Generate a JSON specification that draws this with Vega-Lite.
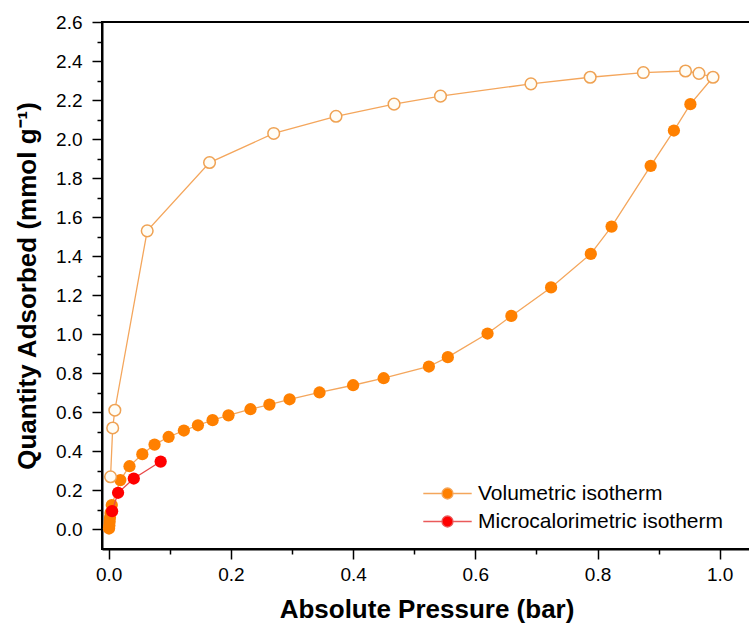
{
  "$schema": "https://vega.github.io/schema/vega-lite/v6.json",
  "autosize": {"type": "none"},
  "padding": {"left": 102, "top": 22, "right": 0, "bottom": 81},
  "width": 649,
  "height": 527,
  "background": "white",
  "config": {
    "view": {"stroke": "black", "strokeWidth": 2},
    "axis": {
      "domainColor": "black", "domainWidth": 2, "tickColor": "black", "tickWidth": 1.5,
      "grid": false, "labelFont": "Liberation Sans", "labelFontSize": 19, "labelColor": "black",
      "titleFont": "Liberation Sans", "titleFontSize": 26, "titleFontWeight": "bold", "titleColor": "black"
    },
    "legend": {"labelFont": "Liberation Sans", "labelFontSize": 21, "labelColor": "black", "labelLimit": 400}
  },
  "datasets": {
    "vol": [
      {"series": "Volumetric isotherm", "branch": "adsorption", "i": 1, "p": 0.0005, "q": 0.005},
      {"series": "Volumetric isotherm", "branch": "adsorption", "i": 2, "p": 0.001, "q": 0.02},
      {"series": "Volumetric isotherm", "branch": "adsorption", "i": 3, "p": 0.0015, "q": 0.04},
      {"series": "Volumetric isotherm", "branch": "adsorption", "i": 4, "p": 0.002, "q": 0.06},
      {"series": "Volumetric isotherm", "branch": "adsorption", "i": 5, "p": 0.003, "q": 0.085},
      {"series": "Volumetric isotherm", "branch": "adsorption", "i": 6, "p": 0.005, "q": 0.125},
      {"series": "Volumetric isotherm", "branch": "adsorption", "i": 7, "p": 0.019, "q": 0.253},
      {"series": "Volumetric isotherm", "branch": "adsorption", "i": 8, "p": 0.034, "q": 0.324},
      {"series": "Volumetric isotherm", "branch": "adsorption", "i": 9, "p": 0.055, "q": 0.386},
      {"series": "Volumetric isotherm", "branch": "adsorption", "i": 10, "p": 0.075, "q": 0.435},
      {"series": "Volumetric isotherm", "branch": "adsorption", "i": 11, "p": 0.098, "q": 0.474},
      {"series": "Volumetric isotherm", "branch": "adsorption", "i": 12, "p": 0.123, "q": 0.507},
      {"series": "Volumetric isotherm", "branch": "adsorption", "i": 13, "p": 0.146, "q": 0.534},
      {"series": "Volumetric isotherm", "branch": "adsorption", "i": 14, "p": 0.170, "q": 0.560},
      {"series": "Volumetric isotherm", "branch": "adsorption", "i": 15, "p": 0.196, "q": 0.585},
      {"series": "Volumetric isotherm", "branch": "adsorption", "i": 16, "p": 0.232, "q": 0.616},
      {"series": "Volumetric isotherm", "branch": "adsorption", "i": 17, "p": 0.263, "q": 0.640},
      {"series": "Volumetric isotherm", "branch": "adsorption", "i": 18, "p": 0.296, "q": 0.667},
      {"series": "Volumetric isotherm", "branch": "adsorption", "i": 19, "p": 0.345, "q": 0.702},
      {"series": "Volumetric isotherm", "branch": "adsorption", "i": 20, "p": 0.400, "q": 0.739},
      {"series": "Volumetric isotherm", "branch": "adsorption", "i": 21, "p": 0.450, "q": 0.775},
      {"series": "Volumetric isotherm", "branch": "adsorption", "i": 22, "p": 0.524, "q": 0.835},
      {"series": "Volumetric isotherm", "branch": "adsorption", "i": 23, "p": 0.555, "q": 0.883},
      {"series": "Volumetric isotherm", "branch": "adsorption", "i": 24, "p": 0.620, "q": 1.004},
      {"series": "Volumetric isotherm", "branch": "adsorption", "i": 25, "p": 0.659, "q": 1.094},
      {"series": "Volumetric isotherm", "branch": "adsorption", "i": 26, "p": 0.724, "q": 1.240},
      {"series": "Volumetric isotherm", "branch": "adsorption", "i": 27, "p": 0.789, "q": 1.412},
      {"series": "Volumetric isotherm", "branch": "adsorption", "i": 28, "p": 0.823, "q": 1.552},
      {"series": "Volumetric isotherm", "branch": "adsorption", "i": 29, "p": 0.887, "q": 1.863},
      {"series": "Volumetric isotherm", "branch": "adsorption", "i": 30, "p": 0.925, "q": 2.044},
      {"series": "Volumetric isotherm", "branch": "adsorption", "i": 31, "p": 0.952, "q": 2.179},
      {"series": "Volumetric isotherm", "branch": "desorption", "i": 32, "p": 0.989, "q": 2.317},
      {"series": "Volumetric isotherm", "branch": "desorption", "i": 33, "p": 0.966, "q": 2.337},
      {"series": "Volumetric isotherm", "branch": "desorption", "i": 34, "p": 0.944, "q": 2.349},
      {"series": "Volumetric isotherm", "branch": "desorption", "i": 35, "p": 0.875, "q": 2.341},
      {"series": "Volumetric isotherm", "branch": "desorption", "i": 36, "p": 0.788, "q": 2.317},
      {"series": "Volumetric isotherm", "branch": "desorption", "i": 37, "p": 0.691, "q": 2.283},
      {"series": "Volumetric isotherm", "branch": "desorption", "i": 38, "p": 0.543, "q": 2.220},
      {"series": "Volumetric isotherm", "branch": "desorption", "i": 39, "p": 0.467, "q": 2.179},
      {"series": "Volumetric isotherm", "branch": "desorption", "i": 40, "p": 0.372, "q": 2.117},
      {"series": "Volumetric isotherm", "branch": "desorption", "i": 41, "p": 0.270, "q": 2.029},
      {"series": "Volumetric isotherm", "branch": "desorption", "i": 42, "p": 0.165, "q": 1.880},
      {"series": "Volumetric isotherm", "branch": "desorption", "i": 43, "p": 0.063, "q": 1.530},
      {"series": "Volumetric isotherm", "branch": "desorption", "i": 44, "p": 0.010, "q": 0.611},
      {"series": "Volumetric isotherm", "branch": "desorption", "i": 45, "p": 0.0065, "q": 0.520},
      {"series": "Volumetric isotherm", "branch": "desorption", "i": 46, "p": 0.003, "q": 0.270}
    ],
    "cal": [
      {"series": "Microcalorimetric isotherm", "i": 1, "p": 0.0055, "q": 0.094},
      {"series": "Microcalorimetric isotherm", "i": 2, "p": 0.0153, "q": 0.188},
      {"series": "Microcalorimetric isotherm", "i": 3, "p": 0.041, "q": 0.261},
      {"series": "Microcalorimetric isotherm", "i": 4, "p": 0.085, "q": 0.348}
    ]
  },
  "encoding": {
    "x": {
      "field": "p", "type": "quantitative",
      "scale": {"domain": [-0.011, 1.0512], "nice": false, "zero": false},
      "axis": {
        "title": "Absolute Pressure (bar)",
        "values": [0, 0.1, 0.2, 0.3, 0.4, 0.5, 0.6, 0.7, 0.8, 0.9, 1.0],
        "labelExpr": "round(datum.value*10) % 2 == 0 ? format(datum.value, '.1f') : ''",
        "tickSize": {"condition": {"test": "round(datum.value*10) % 2 == 0", "value": 10}, "value": 5},
        "labelPadding": 6, "titlePadding": 12
      }
    },
    "y": {
      "field": "q", "type": "quantitative",
      "scale": {"domain": [-0.1, 2.6], "nice": false, "zero": false},
      "axis": {
        "title": "Quantity Adsorbed (mmol g⁻¹)",
        "values": [0, 0.1, 0.2, 0.3, 0.4, 0.5, 0.6, 0.7, 0.8, 0.9, 1.0, 1.1, 1.2, 1.3, 1.4, 1.5, 1.6, 1.7, 1.8, 1.9, 2.0, 2.1, 2.2, 2.3, 2.4, 2.5, 2.6],
        "labelExpr": "round(datum.value*10) % 2 == 0 ? format(datum.value, '.1f') : ''",
        "tickSize": {"condition": {"test": "round(datum.value*10) % 2 == 0", "value": 10}, "value": 5},
        "labelPadding": 10, "titlePadding": 15
      }
    }
  },
  "layer": [
    {
      "data": {"name": "vol"},
      "mark": {"type": "line", "stroke": "#F4A65C", "strokeWidth": 1.3},
      "encoding": {"order": {"field": "i", "type": "quantitative"}}
    },
    {
      "data": {"name": "vol"},
      "transform": [{"filter": "datum.branch === 'adsorption'"}],
      "mark": {"type": "point", "filled": true, "size": 150, "opacity": 1},
      "encoding": {
        "color": {
          "field": "series", "type": "nominal",
          "scale": {"domain": ["Volumetric isotherm", "Microcalorimetric isotherm"], "range": ["#FF8000", "#FF0000"]},
          "legend": {
            "title": null, "orient": "none", "legendX": 335, "legendY": 461,
            "symbolType": "M-4.4,0H-1M1,0H4.4M-1,0A1,1,0,1,0,1,0A1,1,0,1,0,-1,0Z",
            "symbolSize": 121, "symbolStrokeWidth": 1.3, "symbolOpacity": 1,
            "labelOffset": 20, "rowPadding": 6, "padding": 0,
            "encode": {"symbols": {"update": {"stroke": {"signal": "datum.value === 'Volumetric isotherm' ? '#F4A65C' : '#EA5A5A'"}, "fillOpacity": {"value": 1}, "strokeWidth": {"value": 1.3}}}}
          }
        }
      }
    },
    {
      "data": {"name": "vol"},
      "transform": [{"filter": "datum.branch === 'desorption'"}],
      "mark": {"type": "point", "filled": false, "size": 135, "opacity": 1, "fill": "#FFFDF6", "fillOpacity": 1, "stroke": "#EFA253", "strokeWidth": 1.5}
    },
    {
      "data": {"name": "cal"},
      "mark": {"type": "line", "stroke": "#E84848", "strokeWidth": 1.3},
      "encoding": {"order": {"field": "i", "type": "quantitative"}}
    },
    {
      "data": {"name": "cal"},
      "mark": {"type": "point", "filled": true, "size": 150, "opacity": 1},
      "encoding": {"color": {"field": "series", "type": "nominal"}}
    }
  ]
}
